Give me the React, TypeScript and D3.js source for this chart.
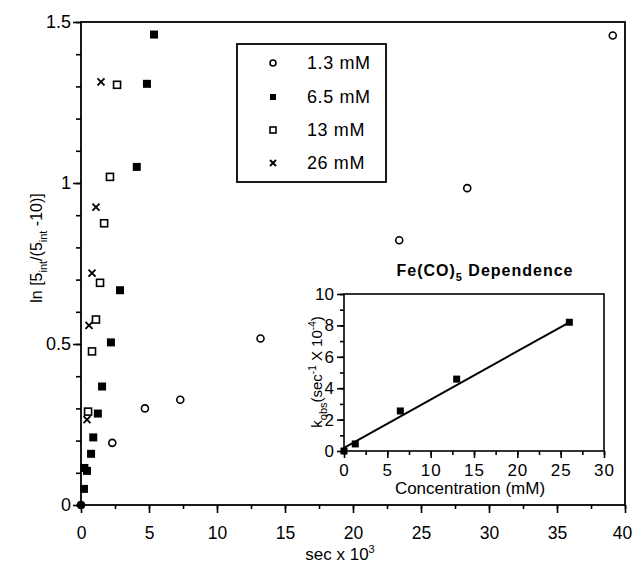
import React, { useRef, useEffect } from 'react';
import * as d3 from 'd3';

// 1.3 mM (open circles)
const c13Time = [0, 2.3, 4.7, 7.3, 13.2, 23.4, 28.4, 39.1];
const c13Val = [0, 0.193, 0.3, 0.327, 0.517, 0.822, 0.984, 1.458];
// 6.5 mM (filled squares)
const c65Time = [0.22, 0.25, 0.44, 0.74, 0.9, 1.24, 1.55, 2.2, 2.87, 4.1, 4.85, 5.37];
const c65Val = [0.05, 0.115, 0.106, 0.159, 0.21, 0.284, 0.368, 0.505, 0.667, 1.05, 1.308, 1.461];
// 13 mM (open squares)
const c130Time = [0.52, 0.81, 1.1, 1.4, 1.7, 2.13, 2.65];
const c130Val = [0.29, 0.477, 0.576, 0.69, 0.875, 1.019, 1.305];
// 26 mM (crosses)
const c260Time = [0.44, 0.59, 0.81, 1.1, 1.47];
const c260Val = [0.265, 0.558, 0.72, 0.925, 1.314];

const legendLabels = ['1.3 mM', '6.5 mM', '13 mM', '26 mM'];
const xTicks = [0, 5, 10, 15, 20, 25, 30, 35, 40];
const yTicks = [0, 0.5, 1, 1.5];

// inset: k_obs vs concentration
const insetConc = [0, 1.3, 6.5, 13, 26];
const insetK = [0, 0.45, 2.55, 4.58, 8.2];
const fitConc = [0, 26];
const fitK = [0.2, 8.2];
const insetXTicks = [0, 5, 10, 15, 20, 25, 30];
const insetYTicks = [0, 2, 4, 6, 8, 10];

const FONT = 'Liberation Sans, Arial, sans-serif';

export default function App() {
  const ref = useRef<SVGSVGElement>(null);

  useEffect(() => {
    const svg = d3.select(ref.current);
    svg.selectAll('*').remove();

    const x = d3.scaleLinear().domain([0, 40]).range([81, 625]);
    const y = d3.scaleLinear().domain([0, 1.5]).range([505, 22]);

    // frame
    svg.append('rect')
      .attr('x', x(0)).attr('y', y(1.5))
      .attr('width', x(40) - x(0)).attr('height', y(0) - y(1.5))
      .attr('fill', 'none').attr('stroke', '#000').attr('stroke-width', 1.8);

    const styleAxis = (g: any) => {
      g.select('.domain').remove();
      g.selectAll('line').attr('stroke', '#000').attr('stroke-width', 1.6);
      g.selectAll('text').attr('fill', '#000').style('font-family', FONT);
    };

    // main x axis
    svg.append('g').attr('transform', `translate(0,${y(0)})`)
      .call(d3.axisBottom(x).tickValues(d3.range(0, 40.1, 2.5)).tickSize(4).tickFormat(() => ''))
      .call(styleAxis);
    svg.append('g').attr('transform', `translate(0,${y(0)})`)
      .call(d3.axisBottom(x).tickValues(xTicks).tickSize(8).tickPadding(14).tickFormat(d3.format('d')))
      .call(styleAxis)
      .selectAll('text').style('font-size', '17.5px')
      .attr('dx', (d: any) => (d === 40 ? -3 : 0));

    // main y axis
    svg.append('g').attr('transform', `translate(${x(0)},0)`)
      .call(d3.axisLeft(y).tickValues(d3.range(0, 1.51, 0.1)).tickSize(5).tickFormat(() => ''))
      .call(styleAxis);
    svg.append('g').attr('transform', `translate(${x(0)},0)`)
      .call(d3.axisLeft(y).tickValues(yTicks).tickSize(8).tickPadding(2).tickFormat((d: any) => String(d)))
      .call(styleAxis)
      .selectAll('text').style('font-size', '18px');

    // axis titles
    const xt = svg.append('text').attr('x', 340).attr('y', 560).attr('text-anchor', 'middle')
      .style('font-family', FONT).style('font-size', '17px');
    xt.append('tspan').text('sec x 10');
    xt.append('tspan').attr('dy', -7).style('font-size', '11px').text('3');

    const yt = svg.append('text').attr('transform', 'translate(42,248) rotate(-90)')
      .attr('text-anchor', 'middle').style('font-family', FONT).style('font-size', '16px');
    yt.append('tspan').text('ln [5');
    yt.append('tspan').attr('dy', 5).style('font-size', '11px').text('int');
    yt.append('tspan').attr('dy', -5).text('/(5');
    yt.append('tspan').attr('dy', 5).style('font-size', '11px').text('int');
    yt.append('tspan').attr('dy', -5).text(' -10)]');

    // markers
    const circle = (g: any, cx: number, cy: number, r = 3.5) =>
      g.append('circle').attr('cx', cx).attr('cy', cy).attr('r', r)
        .attr('fill', '#fff').attr('stroke', '#000').attr('stroke-width', 1.6);
    const filled = (g: any, cx: number, cy: number, s = 8) =>
      g.append('rect').attr('x', cx - s / 2).attr('y', cy - s / 2).attr('width', s).attr('height', s).attr('fill', '#000');
    const open = (g: any, cx: number, cy: number, s = 7) =>
      g.append('rect').attr('x', cx - s / 2).attr('y', cy - s / 2).attr('width', s).attr('height', s)
        .attr('fill', '#fff').attr('stroke', '#000').attr('stroke-width', 1.6);
    const cross = (g: any, cx: number, cy: number, s = 3.5) =>
      g.append('path').attr('d', `M${cx - s},${cy - s}L${cx + s},${cy + s}M${cx - s},${cy + s}L${cx + s},${cy - s}`)
        .attr('stroke', '#000').attr('stroke-width', 1.9);

    const pts = svg.append('g');
    c13Time.forEach((t, i) => circle(pts, x(t), y(c13Val[i])));
    c130Time.forEach((t, i) => open(pts, x(t), y(c130Val[i])));
    c65Time.forEach((t, i) => filled(pts, x(t), y(c65Val[i])));
    c260Time.forEach((t, i) => cross(pts, x(t), y(c260Val[i])));
    pts.append('circle').attr('cx', x(0)).attr('cy', y(0)).attr('r', 4).attr('fill', '#000');

    // legend
    const lg = svg.append('g');
    lg.append('rect').attr('x', 237).attr('y', 44).attr('width', 149).attr('height', 138)
      .attr('fill', '#fff').attr('stroke', '#000').attr('stroke-width', 1.8);
    const rowsY = [63, 97, 130, 163];
    const markers = [
      (cy: number) => circle(lg, 273, cy, 3),
      (cy: number) => filled(lg, 273, cy, 6),
      (cy: number) => open(lg, 273, cy, 6),
      (cy: number) => cross(lg, 273, cy, 3),
    ];
    legendLabels.forEach((l, i) => {
      markers[i](rowsY[i]);
      lg.append('text').attr('x', 307).attr('y', rowsY[i] + 6)
        .style('font-family', FONT).style('font-size', '18px').attr('letter-spacing', 0.6).text(l);
    });

    // inset
    const ix = d3.scaleLinear().domain([0, 30]).range([344, 604]);
    const iy = d3.scaleLinear().domain([0, 10]).range([451, 294]);
    const ig = svg.append('g');
    ig.append('rect').attr('x', ix(0)).attr('y', iy(10))
      .attr('width', ix(30) - ix(0)).attr('height', iy(0) - iy(10))
      .attr('fill', '#fff').attr('stroke', '#000').attr('stroke-width', 1.6);

    ig.append('g').attr('transform', `translate(0,${iy(0)})`)
      .call(d3.axisBottom(ix).tickValues(d3.range(0, 30.1, 2.5)).tickSize(4).tickFormat(() => ''))
      .call(styleAxis);
    ig.append('g').attr('transform', `translate(0,${iy(0)})`)
      .call(d3.axisBottom(ix).tickValues(insetXTicks).tickSize(7).tickPadding(6).tickFormat(d3.format('d')))
      .call(styleAxis)
      .selectAll('text').style('font-size', '17px').attr('letter-spacing', 1);
    ig.append('g').attr('transform', `translate(${ix(0)},0)`)
      .call(d3.axisLeft(iy).tickValues(d3.range(0, 10.1, 1)).tickSize(4).tickFormat(() => ''))
      .call(styleAxis);
    ig.append('g').attr('transform', `translate(${ix(0)},0)`)
      .call(d3.axisLeft(iy).tickValues(insetYTicks).tickSize(7).tickPadding(3).tickFormat(d3.format('d')))
      .call(styleAxis)
      .selectAll('text').style('font-size', '17px');

    const line = d3.line<number>().x(d => ix(d)).y((d, i) => iy(fitK[i]));
    ig.append('path').attr('d', line(fitConc)).attr('fill', 'none').attr('stroke', '#000').attr('stroke-width', 2);
    insetConc.forEach((c, i) => filled(ig, ix(c), iy(insetK[i]), 7));

    const it = ig.append('text').attr('x', 485).attr('y', 276).attr('text-anchor', 'middle')
      .style('font-family', FONT).style('font-size', '16px').style('font-weight', 'bold').attr('letter-spacing', 1);
    it.append('tspan').text('Fe(CO)');
    it.append('tspan').attr('dy', 5).style('font-size', '11px').text('5');
    it.append('tspan').attr('dy', -5).text(' Dependence');

    ig.append('text').attr('x', 470).attr('y', 494).attr('text-anchor', 'middle')
      .style('font-family', FONT).style('font-size', '17px').text('Concentration (mM)');

    const iyt = ig.append('text').attr('transform', 'translate(322,372) rotate(-90)')
      .attr('text-anchor', 'middle').style('font-family', FONT).style('font-size', '15px');
    iyt.append('tspan').text('k');
    iyt.append('tspan').attr('dy', 5).style('font-size', '11px').text('obs');
    iyt.append('tspan').attr('dy', -5).text('(sec');
    iyt.append('tspan').attr('dy', -6).style('font-size', '10px').text('-1');
    iyt.append('tspan').attr('dy', 6).text(' X 10');
    iyt.append('tspan').attr('dy', -6).style('font-size', '10px').text('-4');
    iyt.append('tspan').attr('dy', 6).text(')');
  }, []);

  return (
    <svg ref={ref} width={635} height={566}
      style={{ position: 'absolute', left: 0, top: 0, background: '#fff' }} />
  );
}
